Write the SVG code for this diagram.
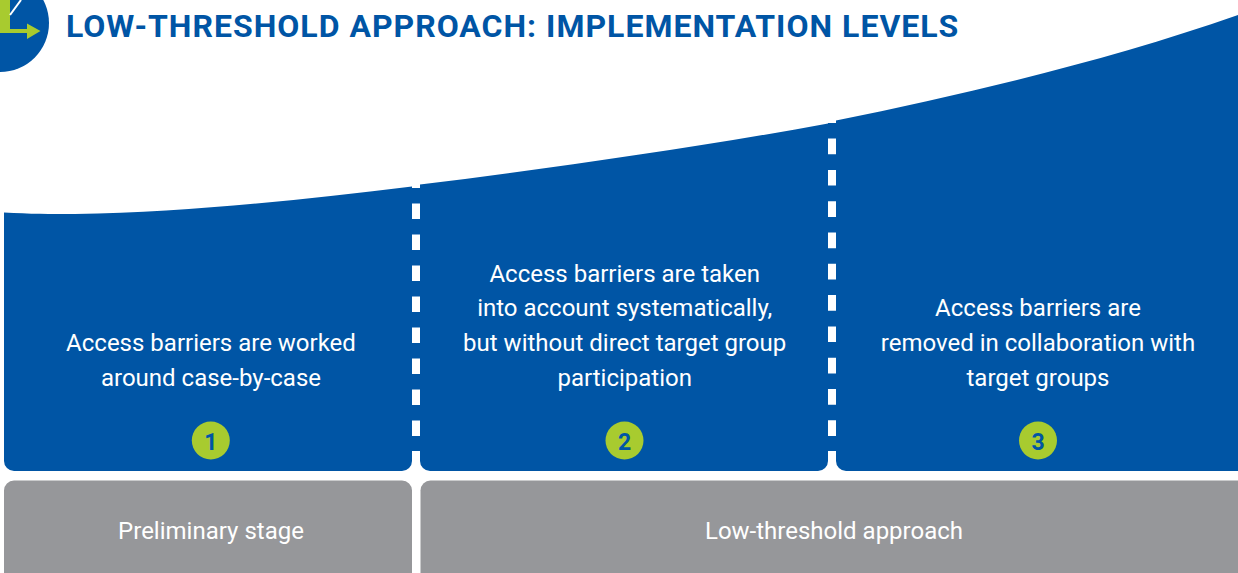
<svg xmlns="http://www.w3.org/2000/svg" width="1238" height="573" viewBox="0 0 1238 573">
<style>
.b{fill:#0055a5}
.g{fill:#96979a}
.t{font-family:Roboto,"Liberation Sans",sans-serif;font-size:24px;fill:#fff;text-anchor:middle}
.n{font-family:Roboto,"Liberation Sans",sans-serif;font-size:23px;font-weight:700;fill:#0055a5;text-anchor:middle}
.c{fill:#a8cb2f}
.d{fill:none;stroke:#0055a5;stroke-width:8}
</style>
<rect width="1238" height="573" fill="#fff"/>
<g id="icon">
<circle cx="0" cy="23" r="49" class="b"/>
<rect x="0" y="0" width="10" height="30" class="c"/>
<path d="M0 29H27V23.500L40.500 31 27 39V33H0Z" class="c"/>
<path d="M10 15L21 0" stroke="#fff" stroke-width="2" fill="none"/>
</g>
<text id="title" x="66" y="37" font-family="Roboto,'Liberation Sans',sans-serif" font-size="32" font-weight="700" letter-spacing="1" fill="#0055a5">LOW-THRESHOLD APPROACH: IMPLEMENTATION LEVELS</text>
<g id="connectors">
<path class="d" d="M416 188V451" stroke-dasharray="15.500 15.500"/>
<path class="d" d="M832 123V451" stroke-dasharray="15.600 15.700"/>
</g>
<g id="level-1">
<path class="b" d="M4 212.500C30 214 50 214 75 214C190 212 300 200 412 186.500V461A10 10 0 0 1 402 471H14A10 10 0 0 1 4 461Z"/>
<text class="t" x="211" y="351">Access barriers are worked</text>
<text class="t" x="211" y="386">around case-by-case</text>
<circle class="c" cx="210.800" cy="440.500" r="19"/>
<text class="n" x="210.800" y="449.500">1</text>
</g>
<g id="level-2">
<path class="b" d="M420 184.500C560 167 700 147 828 123.500V461A10 10 0 0 1 818 471H430A10 10 0 0 1 420 461Z"/>
<text class="t" x="624.700" y="282">Access barriers are taken</text>
<text class="t" x="624.700" y="316">into account systematically,</text>
<text class="t" x="624.700" y="351">but without direct target group</text>
<text class="t" x="624.700" y="386">participation</text>
<circle class="c" cx="624.500" cy="440.500" r="19"/>
<text class="n" x="624.500" y="449.500">2</text>
</g>
<g id="level-3">
<path class="b" d="M836 120.500C970 93 1110 60 1238 15V471H846A10 10 0 0 1 836 461Z"/>
<text class="t" x="1038" y="316">Access barriers are</text>
<text class="t" x="1038" y="351">removed in collaboration with</text>
<text class="t" x="1038" y="386">target groups</text>
<circle class="c" cx="1038" cy="440.500" r="19"/>
<text class="n" x="1038" y="449.500">3</text>
</g>
<g id="stage-preliminary">
<path class="g" d="M4 573V490.500A10 10 0 0 1 14 480.500H402A10 10 0 0 1 412 490.500V573Z"/>
<text class="t" x="211" y="539">Preliminary stage</text>
</g>
<g id="stage-low-threshold">
<path class="g" d="M420.500 573V490.500A10 10 0 0 1 430.500 480.500H1238V573Z"/>
<text class="t" x="834" y="539">Low-threshold approach</text>
</g>
</svg>
